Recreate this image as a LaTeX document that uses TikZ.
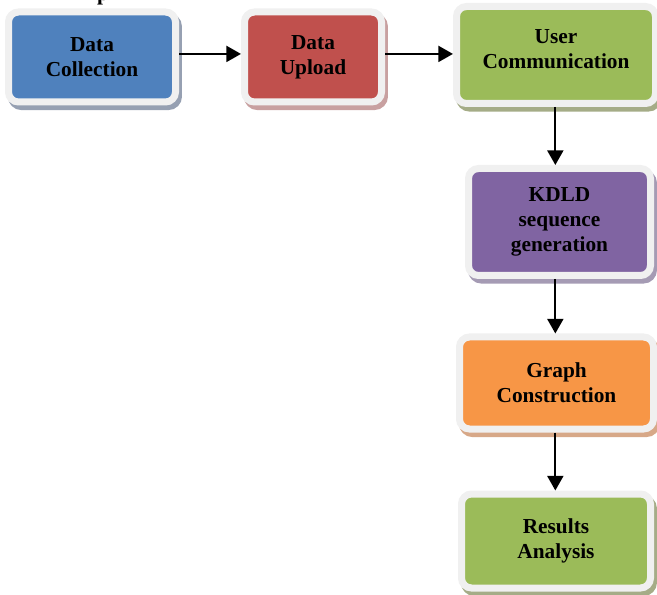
\documentclass[tikz,border=0pt]{standalone}
\usepackage{fontspec}
\setmainfont{Liberation Serif}
\usetikzlibrary{arrows.meta,shadows}
\definecolor{frameC}{RGB}{240,240,240}
\definecolor{cBlue}{RGB}{79,129,189}
\definecolor{cRed}{RGB}{192,80,77}
\definecolor{cGreen}{RGB}{155,187,89}
\definecolor{cPurple}{RGB}{128,100,162}
\definecolor{cOrange}{RGB}{247,150,70}
\definecolor{sBlue}{RGB}{150,160,178}
\definecolor{sRed}{RGB}{200,160,160}
\definecolor{sGreen}{RGB}{165,172,135}
\definecolor{sPurple}{RGB}{165,155,180}
\definecolor{sOrange}{RGB}{215,168,136}
\tikzset{
  box/.style n args={2}{draw=frameC, line width=5.25pt, fill=#1,
    rounded corners=7.5pt, align=center, font=\bfseries\fontsize{16}{18.75}\selectfont,
    general shadow={shadow xshift=2.2pt, shadow yshift=-3.4pt, fill=#2, draw=#2, line width=5.25pt}},
  arr/.style={line width=1.6pt, -{Triangle[length=11pt,width=12pt]}}
}
\begin{document}
\begin{tikzpicture}[x=0.75pt,y=-0.75pt]
\useasboundingbox (0,0) rectangle (657,595);
\begin{scope}
\clip (0,0) rectangle (657,595);
\node[font=\bfseries\fontsize{16}{18.75}\selectfont, anchor=base] (frag) at (103,1) {p};
\end{scope}
\node[box={cBlue}{sBlue}, minimum width=125.25pt, minimum height=67.5pt] (b1) at (92,57) {Data\\Collection};
\node[box={cRed}{sRed}, minimum width=102.75pt, minimum height=67.5pt] (b2) at (313,57) {Data\\Upload};
\node[box={cGreen}{sGreen}, minimum width=149.25pt, minimum height=72.75pt] (b3) at (556,55) {User\\Communication\\[-9.75pt]\mbox{}};
\node[box={cPurple}{sPurple}, minimum width=136.5pt, minimum height=80.25pt] (b4) at (559.5,222) {KDLD\\sequence\\generation};
\node[box={cOrange}{sOrange}, minimum width=145.5pt, minimum height=69pt] (b5) at (556.5,383) {Graph\\Construction};
\node[box={cGreen}{sGreen}, minimum width=141.75pt, minimum height=70.5pt] (b6) at (556,541) {Results\\Analysis};
\draw[arr] ([yshift=2.3pt]b1.east) -- ([yshift=2.3pt]b1.east -| b2.west);
\draw[arr] ([yshift=2.3pt]b2.east) -- ([yshift=2.3pt]b2.east -| b3.west);
\draw[arr] ([xshift=-0.5pt]b3.south) -- ([xshift=-0.5pt]b3.south |- b4.north);
\draw[arr] ([xshift=-0.5pt]b3.south |- b4.south) -- ([xshift=-0.5pt]b3.south |- b5.north);
\draw[arr] ([xshift=-0.5pt]b3.south |- b5.south) -- ([xshift=-0.5pt]b3.south |- b6.north);
\end{tikzpicture}
\end{document}
